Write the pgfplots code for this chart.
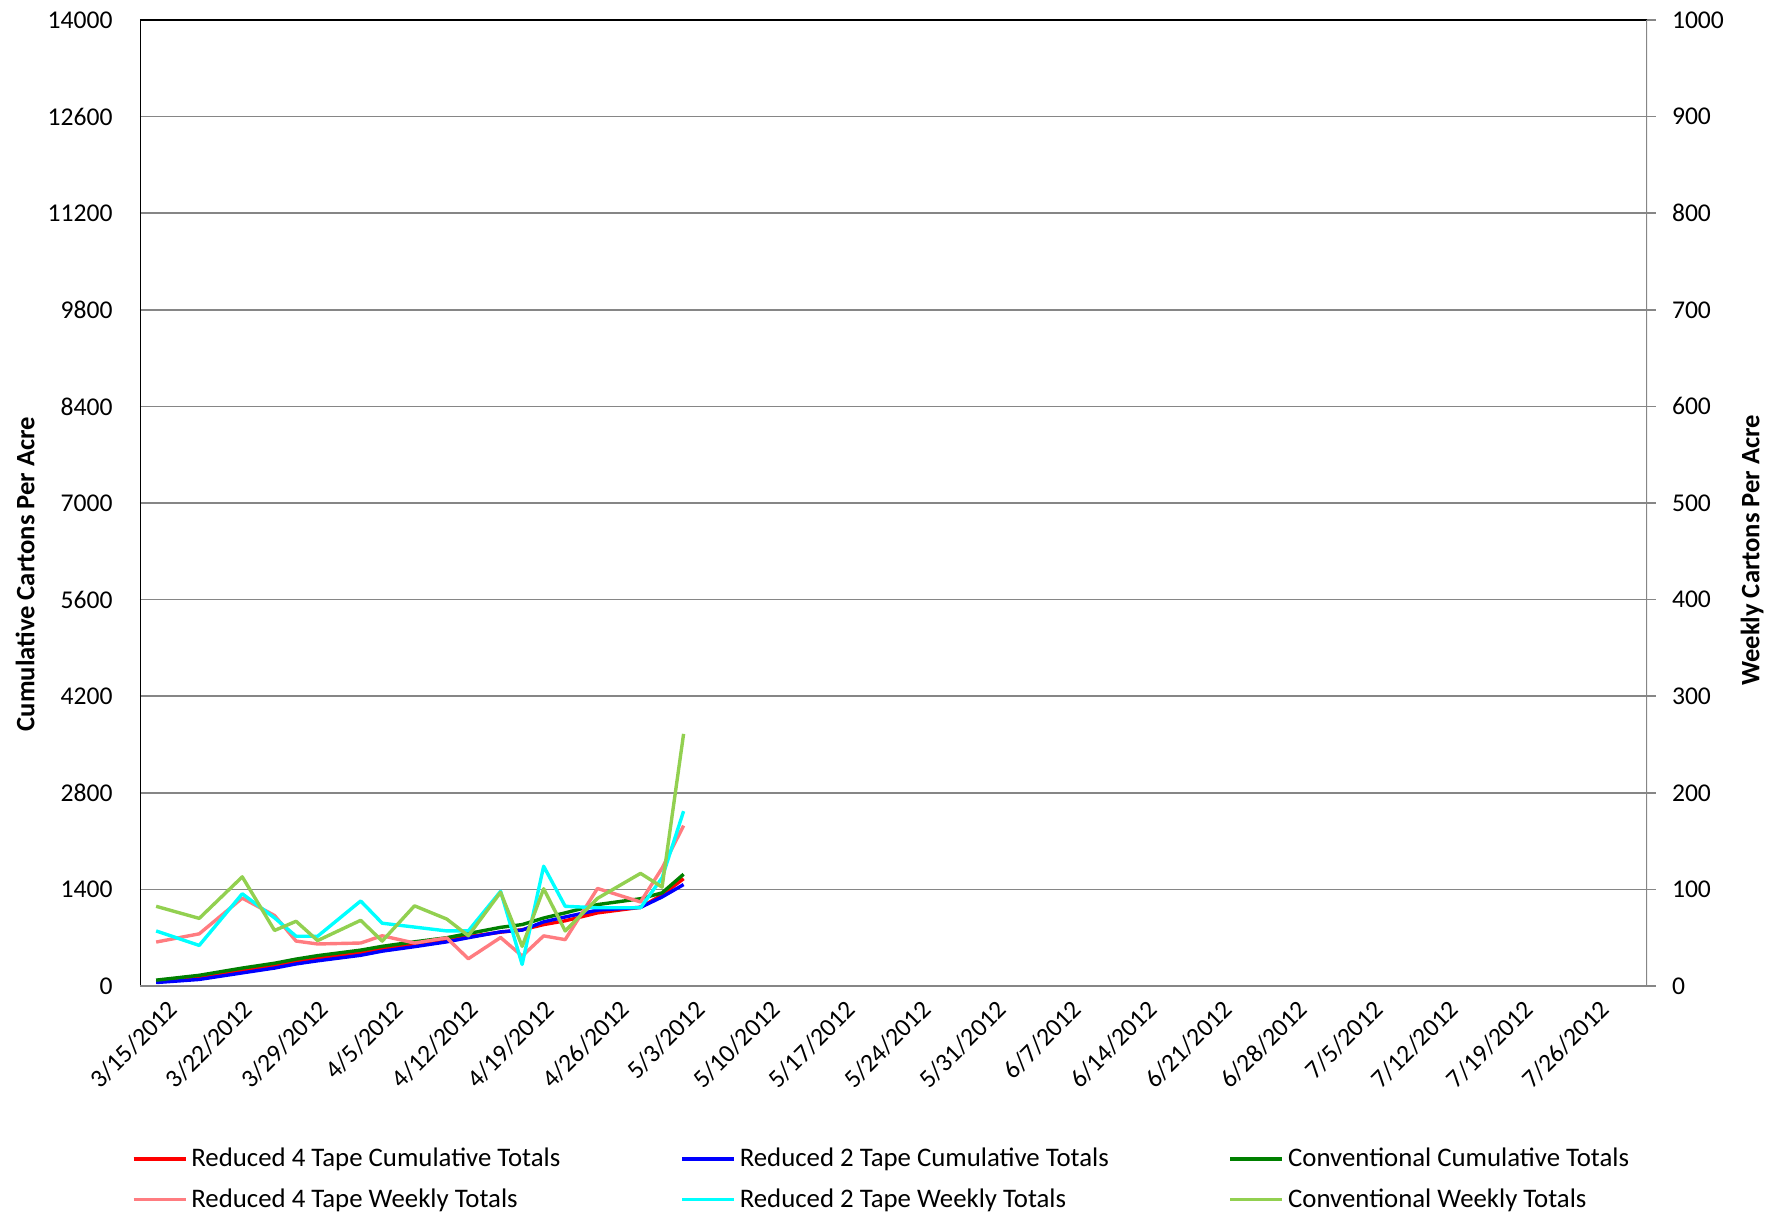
\documentclass[border=0pt]{standalone}
\usepackage{pgfplots}
\pgfplotsset{compat=1.18}
\usepackage{pgfplotstable}
\usepackage{fontspec}
\setmainfont{Carlito}
\definecolor{cRed}{RGB}{255,0,0}
\definecolor{cBlue}{RGB}{0,0,255}
\definecolor{cGreen}{RGB}{0,128,0}
\definecolor{wRed}{RGB}{255,124,128}
\definecolor{wBlue}{RGB}{0,255,255}
\definecolor{wGreen}{RGB}{146,208,80}
\definecolor{gridgray}{RGB}{134,134,134}

\pgfplotstableread{
x    cr    cb    cg    wr    wb    wg
1.5  60    50    85    45.5  57    82.5
5.5  120   95    155   54    42    70
9.5  225   190   260   91    95.5  113
12.5 295   260   330   73    70.5  57.5
14.5 350   320   390   46.5  51.5  67
16.5 400   365   440   43.5  51.5  47
20.5 480   445   520   44.5  88    68
22.5 540   505   575   52    65    46.5
25.5 605   570   640   44.5  61    83
28.5 665   640   700   49.8  57    69.3
30.5 715   700   760   28.2  57    52
33.5 780   785   850   50.2  98    97
35.5 815   810   890   31    22.3  41
37.5 890   930   985   51.9  124   100.7
39.5 945   1000  1060  48    82.5  57
42.5 1060  1100  1180  101   81    90.7
46.5 1140  1140  1265  87    81    116.6
48.5 1320  1290  1350  122   112   102.4
50.5 1555  1470  1620  166   181   261
}\data

\newcommand{\tickfont}{\fontsize{12.8}{15.4}\selectfont}
\newcommand{\legfont}{\fontsize{13.4}{16}\selectfont}
\newcommand{\titlefont}{\fontsize{13.3}{16}\selectfont\bfseries}

\begin{document}
\begin{tikzpicture}[font=\tickfont]
\useasboundingbox (-70pt,-120pt) rectangle (818pt,493pt);
\pgfplotsset{
  base/.style={
    scale only axis, width=753.5pt, height=483pt,
    at={(0pt,0pt)}, anchor=south west,
    xmin=0, xmax=140,
    axis line style={draw=none},
    /pgf/number format/assume math mode=true,
    /pgf/number format/set thousands separator={},
    scaled y ticks=false,
    tick label style={font=\tickfont},
    every axis plot/.append style={line width=1.7pt, line join=round, no markers},
  }
}
\begin{axis}[base,
  ymin=0, ymax=14000, ytick={0,1400,...,14000},
  axis x line*=bottom, axis y line*=left,
  xtick={0,7,...,133},
  xticklabels={3/15/2012,3/22/2012,3/29/2012,4/5/2012,4/12/2012,4/19/2012,4/26/2012,5/3/2012,5/10/2012,5/17/2012,5/24/2012,5/31/2012,6/7/2012,6/14/2012,6/21/2012,6/28/2012,7/5/2012,7/12/2012,7/19/2012,7/26/2012},
  xtick style={draw=none}, ytick style={draw=none},
  x tick label style={font=\tickfont, rotate=45, anchor=north east, inner sep=0pt, xshift=5pt, yshift=-13.5pt},
  y tick label style={anchor=east, inner sep=0pt, xshift=-13.5pt},
  ymajorgrids, grid style={color=gridgray, line width=0.85pt},
  ylabel={\titlefont Cumulative Cartons Per Acre},
  every axis y label/.style={at={(axis description cs:-0.0763,0.4265)}, anchor=center, rotate=90},
]
\addplot[cRed] table[x=x,y=cr]{\data};
\addplot[cBlue] table[x=x,y=cb]{\data};
\addplot[cGreen] table[x=x,y=cg]{\data};
\end{axis}
\begin{axis}[base,
  ymin=0, ymax=1000, ytick={0,100,...,1000},
  axis x line=none, axis y line*=right,
  ytick style={draw=gridgray, line width=0.85pt},
  tick align=outside, major tick length=4.3pt,
  y tick label style={anchor=west, inner sep=0pt, xshift=8pt},
  ylabel={\titlefont Weekly Cartons Per Acre},
  every axis y label/.style={at={(axis description cs:1.0697,0.451)}, anchor=center, rotate=90},
  legend columns=3,
  legend cell align=left,
  legend image code/.code={\draw[#1, line width=1.7pt] (0pt,0pt) -- (26pt,0pt);},
  legend style={at={(axis description cs:0,0)}, anchor=north west, xshift=-4pt, yshift=-79pt,
    draw=none, fill=none, inner sep=0pt, outer sep=0pt, row sep=5.5pt,
    font=\legfont,
    /tikz/every even column/.append style={column sep=58pt},
    /tikz/every odd column/.append style={column sep=0pt}},
]
\addlegendimage{cRed}\addlegendentry{Reduced 4 Tape Cumulative Totals}
\addlegendimage{cBlue}\addlegendentry{Reduced 2 Tape Cumulative Totals}
\addlegendimage{cGreen}\addlegendentry{Conventional Cumulative Totals}
\addplot[wRed] table[x=x,y=wr]{\data};
\addlegendentry{Reduced 4 Tape Weekly Totals}
\addplot[wBlue] table[x=x,y=wb]{\data};
\addlegendentry{Reduced 2 Tape Weekly Totals}
\addplot[wGreen] table[x=x,y=wg]{\data};
\addlegendentry{Conventional Weekly Totals}
\draw[black, line width=0.85pt] (rel axis cs:0,0) -- (rel axis cs:0,1) -- (rel axis cs:1,1);
\draw[gridgray, line width=0.85pt] (rel axis cs:1,1) -- (rel axis cs:1,0) -- (rel axis cs:0,0);
\end{axis}
\end{tikzpicture}
\end{document}
